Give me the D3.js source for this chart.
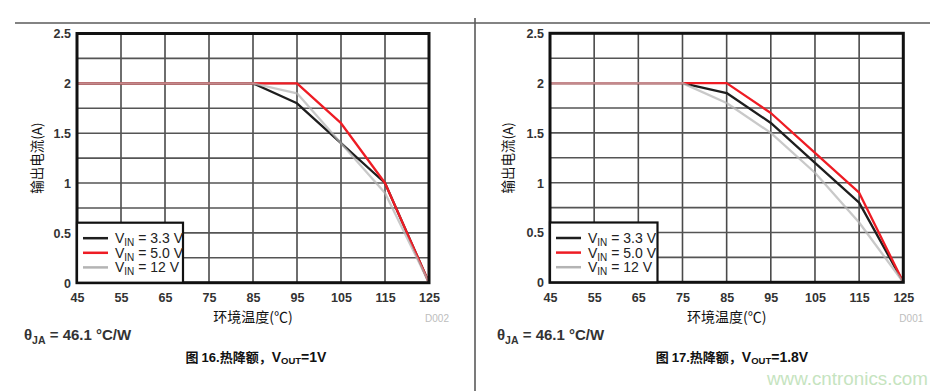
<!DOCTYPE html>
<html><head><meta charset="utf-8">
<script src="https://cdn.jsdelivr.net/npm/d3@7"></script>
<style>
html,body{margin:0;padding:0;background:#fff;}
svg{display:block;}
</style></head>
<body>
<svg id="c" width="949" height="391"></svg>
<script>
// ---- data ----
const xTickLabels = [45, 55, 65, 75, 85, 95, 105, 115, 125];
const yTickLabels = [0, 0.5, 1, 1.5, 2, 2.5];
const seriesNames = ["3.3 V", "5.0 V", "12 V"];

// Figure 16: VOUT = 1V
const tempsA = [45, 85, 95, 105, 115, 125];
const vin33A = [2, 2, 1.8, 1.4, 1.0, 0];
const vin50A = [2, 2, 2.0, 1.6, 1.0, 0];
const vin12A = [2, 2, 1.9, 1.4, 0.9, 0];

// Figure 17: VOUT = 1.8V
const tempsB = [45, 75, 85, 95, 105, 115, 125];
const vin33B = [2, 2, 1.9, 1.6, 1.2, 0.8, 0];
const vin50B = [2, 2, 2.0, 1.7, 1.3, 0.9, 0];
const vin12B = [2, 2, 1.8, 1.5, 1.1, 0.6, 0];

const colors = ["#1e1e1e", "#ee1c24", "#b4b4b4"];
const LATIN = "Liberation Sans, Arial, sans-serif";
const CJK = "Noto Sans CJK SC, sans-serif";

const svg = d3.select("#c");

// page rules
svg.append("line").attr("x1", 15).attr("x2", 930).attr("y1", 23).attr("y2", 23)
  .attr("stroke", "#5a5a5a").attr("stroke-width", 1.6);
svg.append("line").attr("x1", 475).attr("x2", 475).attr("y1", 18).attr("y2", 391)
  .attr("stroke", "#5a5a5a").attr("stroke-width", 1.6);

function panel(opt) {
  const g = svg.append("g");
  const x = d3.scaleLinear().domain([45, 125]).range([opt.x0, opt.x1]);
  const y = d3.scaleLinear().domain([0, 2.5]).range([opt.y1, opt.y0]);

  // grid
  const gx = d3.range(45, 126, 10);
  const gy = d3.range(0, 2.51, 0.25);
  g.selectAll(".vg").data(gx).join("line")
    .attr("x1", d => x(d)).attr("x2", d => x(d))
    .attr("y1", y(0)).attr("y2", y(2.5))
    .attr("stroke", "#4a4a4a").attr("stroke-width", 1.6);
  g.selectAll(".hg").data(gy).join("line")
    .attr("x1", x(45)).attr("x2", x(125))
    .attr("y1", d => y(d)).attr("y2", d => y(d))
    .attr("stroke", "#555").attr("stroke-width", 1.6);

  // axes (labels only)
  const xa = g.append("g").attr("transform", `translate(0,${y(0)})`)
    .call(d3.axisBottom(x).tickValues(xTickLabels).tickSize(0).tickPadding(10));
  const ya = g.append("g").attr("transform", `translate(${x(45)},0)`)
    .call(d3.axisLeft(y).tickValues(yTickLabels).tickSize(0).tickPadding(6)
      .tickFormat(d3.format("~g")));
  [xa, ya].forEach(a => {
    a.select(".domain").remove();
    a.selectAll("text").attr("font-family", LATIN)
      .attr("font-size", 12.5).attr("font-weight", "bold").attr("fill", "#333");
  });
  ya.selectAll("text").attr("dy", "0.35em");
  xa.selectAll("text").attr("dy", "0.75em");

  // series
  const line = d3.line().x(d => x(d[0])).y(d => y(d[1]));
  const order = [0, 1, 2];
  order.forEach(i => {
    const pts = opt.temps.map((t, k) => [t, opt.series[i][k]]);
    g.append("path").attr("d", line(pts)).attr("fill", "none")
      .attr("stroke", colors[i]).attr("stroke-width", 2.3)
      .attr("stroke-linejoin", "round")
      .attr("stroke-opacity", i === 2 ? 0.72 : 1);
  });

  // frame
  g.append("rect").attr("x", x(45)).attr("y", y(2.5))
    .attr("width", x(125) - x(45)).attr("height", y(0) - y(2.5))
    .attr("fill", "none").attr("stroke", "#111").attr("stroke-width", 3);

  // legend
  const lg = g.append("g");
  lg.append("rect").attr("x", x(45)).attr("y", opt.legTop)
    .attr("width", opt.legW).attr("height", y(0) - opt.legTop)
    .attr("fill", "#fff").attr("stroke", "#111").attr("stroke-width", 2.2);
  seriesNames.forEach((n, i) => {
    const ly = opt.legTop + 15.5 + i * 14.6;
    lg.append("line").attr("x1", x(45) + 6).attr("x2", x(45) + 31)
      .attr("y1", ly).attr("y2", ly).attr("stroke", colors[i]).attr("stroke-width", 2.5);
    const t = lg.append("text").attr("x", x(45) + 38).attr("y", ly + 5)
      .attr("font-family", LATIN).attr("font-size", 14)
      .attr("fill", "#222");
    t.append("tspan").text("V");
    t.append("tspan").text("IN").attr("font-size", 10).attr("dy", 3);
    t.append("tspan").text(" = " + n).attr("dy", -3);
  });

  // axis titles
  g.append("text").attr("x", (x(45) + x(125)) / 2).attr("y", 322)
    .attr("text-anchor", "middle")
    .attr("font-family", CJK).attr("font-size", 14)
    .attr("fill", "#111").text("环境温度(℃)");
  g.append("text").attr("transform", `translate(${opt.yTitleX},${(y(0) + y(2.5)) / 2}) rotate(-90)`)
    .attr("text-anchor", "middle").attr("dy", "0.35em")
    .attr("font-family", CJK).attr("font-size", 13.5)
    .attr("fill", "#111").text("输出电流(A)");
  g.append("text").attr("x", x(125) + 8).attr("y", 322).attr("text-anchor", "middle")
    .attr("font-family", LATIN).attr("font-size", 10)
    .attr("fill", "#bdbdbd").text(opt.code);

  // theta
  const th = g.append("text").attr("x", opt.thX).attr("y", 340)
    .attr("font-family", LATIN).attr("font-size", 15)
    .attr("font-weight", "bold").attr("fill", "#333");
  th.append("tspan").text("θ");
  th.append("tspan").text("JA").attr("font-size", 10.5).attr("dy", 4);
  th.append("tspan").text(" = 46.1 °C/W").attr("dy", -4);

  // caption
  const cp = g.append("text").attr("x", opt.capX).attr("y", 362).attr("text-anchor", "middle")
    .attr("font-weight", "bold").attr("fill", "#111").attr("font-size", 14)
    .attr("font-family", LATIN);
  cp.append("tspan").text("图 ").attr("font-family", CJK).attr("font-size", 13);
  cp.append("tspan").text(opt.capNum).attr("font-size", 13);
  cp.append("tspan").text("热降额，").attr("font-family", CJK).attr("font-size", 13);
  cp.append("tspan").text("V");
  cp.append("tspan").text("OUT").attr("font-size", 9.5).attr("dy", 1.5);
  cp.append("tspan").text(opt.capPost).attr("dy", -1.5);
}

panel({
  x0: 77, x1: 429, y0: 33.5, y1: 282.7,
  temps: tempsA, series: [vin33A, vin50A, vin12A],
  legTop: 222.7, legW: 106, yTitleX: 37, code: "D002",
  thX: 24, capX: 256, capNum: "16.", capPost: "=1V"
});
panel({
  x0: 550, x1: 903.3, y0: 33.3, y1: 282.3,
  temps: tempsB, series: [vin33B, vin50B, vin12B],
  legTop: 222.5, legW: 107.5, yTitleX: 508, code: "D001",
  thX: 497, capX: 732, capNum: "17.", capPost: "=1.8V"
});

// watermark
svg.append("text").attr("x", 767).attr("y", 385)
  .attr("font-family", LATIN).attr("font-size", 18.5)
  .attr("textLength", 161).attr("lengthAdjust", "spacingAndGlyphs")
  .attr("fill", "#c6e4bf").text("www.cntronics.com");
</script>
</body></html>
